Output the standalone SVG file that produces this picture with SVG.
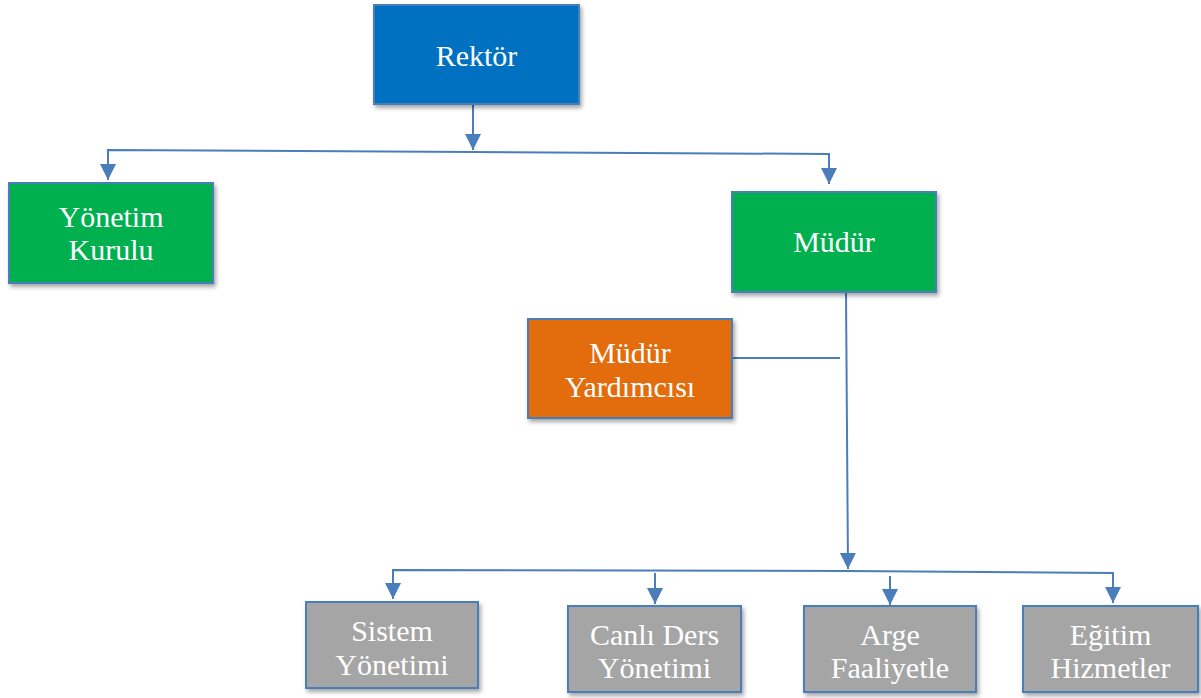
<svg xmlns="http://www.w3.org/2000/svg" width="1201" height="698" viewBox="0 0 1201 698">
<defs>
<style>
.box{stroke:#4A7EBB;stroke-width:2;filter:url(#sh)}
.blue{fill:#0070C0}
.green{fill:#00B050}
.orange{fill:#E36C0A}
.gray{fill:#A5A5A5}
.t{font-family:"Liberation Serif","DejaVu Serif",serif;font-size:30px;fill:#FFFFFF;text-anchor:middle}
.c{fill:none;stroke:#4A7EBB;stroke-width:2}
.a{marker-end:url(#ah)}
</style>
<filter id="sh" x="-10%" y="-10%" width="125%" height="130%">
<feDropShadow dx="2" dy="3" stdDeviation="2" flood-color="#000" flood-opacity="0.35"/>
</filter>
<marker id="ah" markerUnits="userSpaceOnUse" markerWidth="18" markerHeight="18" refX="16" refY="8" orient="auto" viewBox="0 0 18 18" overflow="visible">
<path d="M0,0 L16,8 L0,16 z" fill="#4A7EBB"/>
</marker>
</defs>
<g id="connectors">
<path class="c a" d="M473,104 L473,150"/>
<path class="c a" d="M473,152 L108,150 L108,180"/>
<path class="c a" d="M473,152 L829,154 L829,184"/>
<path class="c a" d="M846,292 L848,569"/>
<path class="c" d="M732,358 L840,358"/>
<path class="c a" d="M848,571 L393,570 L393,599"/>
<path class="c a" d="M848,571 L1113,573 L1113,603"/>
<path class="c a" d="M655,573 L655,604"/>
<path class="c a" d="M890,576 L890,605"/>
</g>
<g id="rektor">
<rect class="box blue" x="374" y="5" width="205" height="99"/>
<text class="t" x="476.5" y="66">Rektör</text>
</g>
<g id="yonetim-kurulu">
<rect class="box green" x="9" y="183" width="204" height="100"/>
<text class="t" x="111" y="227">Yönetim</text>
<text class="t" x="111" y="260">Kurulu</text>
</g>
<g id="mudur">
<rect class="box green" x="732" y="192" width="204" height="100"/>
<text class="t" x="834" y="252">Müdür</text>
</g>
<g id="mudur-yardimcisi">
<rect class="box orange" x="528" y="319" width="204" height="99"/>
<text class="t" x="630" y="363">Müdür</text>
<text class="t" x="630" y="397">Yardımcısı</text>
</g>
<g id="sistem-yonetimi">
<rect class="box gray" x="306" y="602" width="172" height="86"/>
<text class="t" x="392" y="641">Sistem</text>
<text class="t" x="392" y="675">Yönetimi</text>
</g>
<g id="canli-ders">
<rect class="box gray" x="568" y="606" width="173" height="86"/>
<text class="t" x="654.5" y="645">Canlı Ders</text>
<text class="t" x="654.5" y="678">Yönetimi</text>
</g>
<g id="arge">
<rect class="box gray" x="804" y="606" width="172" height="86"/>
<text class="t" x="890" y="645">Arge</text>
<text class="t" x="890" y="678">Faaliyetle</text>
</g>
<g id="egitim">
<rect class="box gray" x="1023" y="606" width="175" height="86"/>
<text class="t" x="1110.5" y="645">Eğitim</text>
<text class="t" x="1110.5" y="678">Hizmetler</text>
</g>
</svg>
